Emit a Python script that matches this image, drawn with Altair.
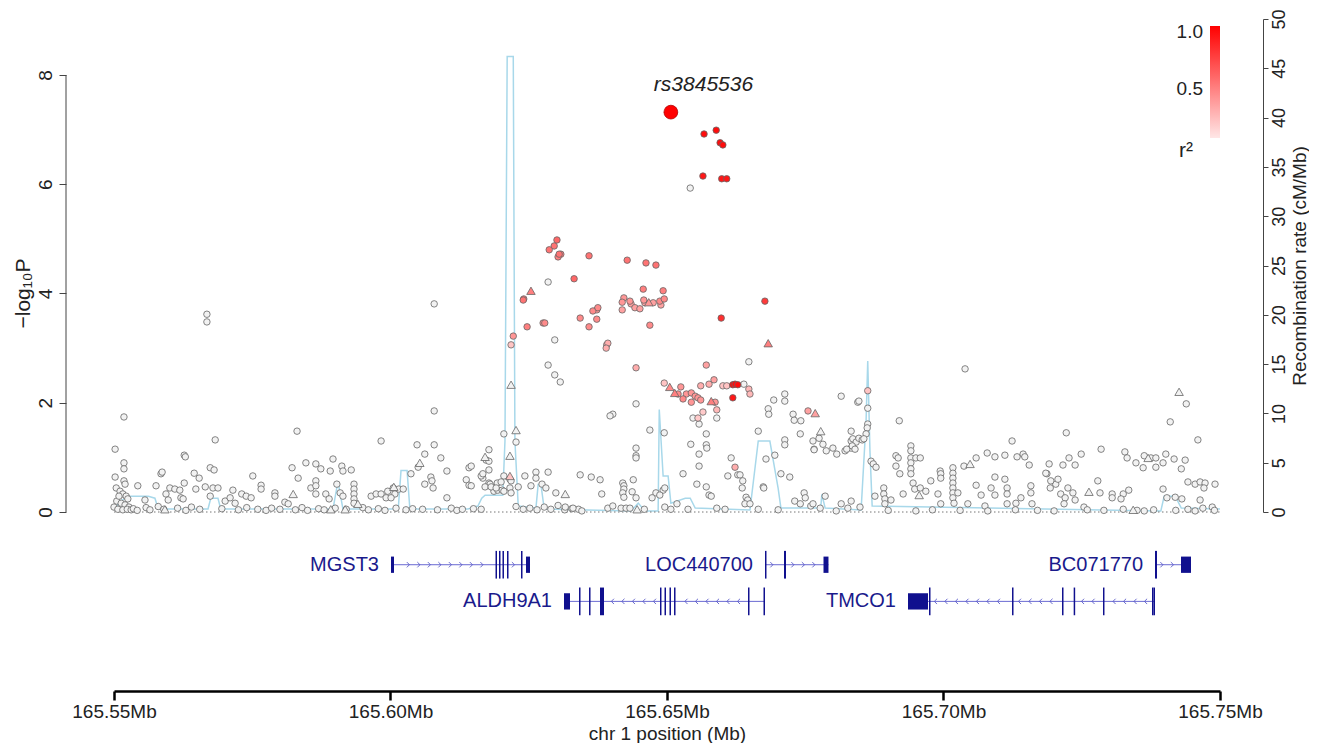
import altair as alt
import pandas as pd

REGION_START_MB = 165.55
REGION_END_MB = 165.75

# ---------------- recombination rate (kb from 165.55 Mb, cM/Mb) ----------------
recomb_kb = [0.0, 1.1, 2.9, 6.2, 7.4, 8.0, 17.0, 17.5, 18.8, 19.3, 39.6, 40.5, 41.4,
             51.4, 51.9, 53.0, 53.5, 64.0, 65.8, 66.5, 67.1, 70.3, 70.7, 71.1, 72.2,
             72.5, 73.1, 76.3, 76.7, 77.2, 77.8, 93.5, 94.8, 96.0, 98.4, 98.6, 99.3,
             100.2, 100.7, 103.3, 104.2, 105.1, 115.0, 116.5, 118.6, 120.1, 120.6, 127.8,
             128.0, 128.6, 135.1, 136.0, 136.3, 136.7, 137.1, 189.3, 189.9, 191.9, 193.0,
             200.0]
recomb_rate = [0.2, 1.1, 1.6, 1.6, 1.4, 0.3, 0.3, 1.4, 1.4, 0.3, 0.3, 3.1, 0.3,
               0.3, 4.2, 4.2, 0.3, 0.3, 0.6, 1.4, 1.7, 1.7, 7.2, 46.2, 46.2,
               7.2, 0.6, 0.4, 2.8, 2.8, 0.3, 0.1, 0.9, 0.1, 0.1, 10.4, 3.65,
               3.65, 0.9, 1.4, 1.4, 0.4, 0.2, 7.2, 7.2, 2.4, 0.4, 0.4,
               1.8, 0.4, 0.2, 9.2, 15.3, 6.2, 0.6, 0.1, 1.6, 1.6, 0.4,
               0.3]

# ---------------- SNPs: (kb from 165.55 Mb, -log10 P) ----------------
lead_kb = [100.7]
lead_logp = [7.32]
lead_name = ["rs3845536"]

# coloured by LD: (kb, -log10P, r2)
ld_circles = [
    (106.7, 6.92, 0.95), (108.9, 6.99, 0.95), (109.6, 6.76, 0.95), (110.1, 6.72, 0.95),
    (106.5, 6.15, 0.9), (109.9, 6.10, 0.9), (110.8, 6.10, 0.9), (111.9, 2.33, 0.95),
    (112.3, 2.34, 0.95), (112.8, 2.33, 0.95), (111.9, 2.09, 0.9), (109.8, 3.55, 0.8),
    (117.7, 3.86, 0.75),
    (80.1, 4.98, 0.55), (79.6, 4.87, 0.5), (78.7, 4.80, 0.5), (80.5, 4.72, 0.5),
    (80.8, 4.72, 0.45), (80.3, 4.67, 0.45), (85.9, 4.69, 0.5), (92.8, 4.61, 0.5),
    (96.2, 4.56, 0.5), (98.0, 4.52, 0.5), (83.2, 4.27, 0.55), (74.0, 3.88, 0.5),
    (74.1, 3.90, 0.45), (95.7, 4.08, 0.45), (99.3, 4.05, 0.45),
    (92.2, 3.92, 0.35), (91.9, 3.84, 0.35), (93.3, 3.86, 0.35), (93.5, 3.81, 0.3),
    (95.8, 3.88, 0.35), (97.5, 3.83, 0.3), (98.7, 3.86, 0.4), (99.5, 3.90, 0.4),
    (98.9, 3.79, 0.3), (94.2, 3.74, 0.3), (95.1, 3.72, 0.3), (91.9, 3.70, 0.3),
    (96.0, 3.83, 0.3), (86.6, 3.68, 0.4), (87.5, 3.74, 0.4), (87.3, 3.70, 0.35),
    (84.3, 3.55, 0.4), (87.3, 3.53, 0.4), (85.9, 3.39, 0.4), (77.6, 3.46, 0.4),
    (77.9, 3.46, 0.4), (74.7, 3.39, 0.45), (96.9, 3.42, 0.4), (72.2, 3.22, 0.35),
    (71.8, 3.06, 0.15), (89.3, 3.09, 0.25), (89.0, 3.00, 0.25), (89.1, 3.06, 0.2),
    (94.4, 2.64, 0.25), (107.1, 2.69, 0.3), (108.5, 2.42, 0.3), (99.5, 2.36, 0.15),
    (102.5, 2.29, 0.35), (102.0, 2.16, 0.4), (102.9, 2.07, 0.4), (103.5, 2.16, 0.35),
    (104.4, 2.18, 0.35), (105.1, 2.12, 0.35), (104.4, 2.01, 0.35), (105.6, 2.09, 0.35),
    (106.1, 2.31, 0.25), (107.6, 2.34, 0.25), (106.1, 2.05, 0.35), (108.7, 2.01, 0.35),
    (109.0, 1.87, 0.2), (110.1, 2.31, 0.15), (110.8, 2.31, 0.15), (114.8, 2.25, 0.2),
    (115.0, 2.16, 0.2), (125.5, 1.85, 0.3), (136.3, 2.22, 0.15), (106.5, 1.83, 0.12),
    (105.6, 1.72, 0.12), (112.3, 0.82, 0.25),
]
ld_triangles = [
    (75.4, 4.05, 0.45), (96.7, 3.84, 0.35), (118.3, 3.09, 0.45), (100.5, 2.29, 0.4),
    (101.4, 2.18, 0.45), (108.0, 2.03, 0.45), (126.8, 1.81, 0.3), (71.6, 0.66, 0.15),
]
gray_triangles = [
    (192.6, 2.20), (127.8, 1.48), (67.1, 1.01), (71.6, 1.03), (72.7, 1.50), (71.8, 2.33),
    (32.4, 0.33), (44.1, 0.15), (50.6, 0.46), (55.3, 0.90), (154.8, 0.88), (187.0, 0.99),
    (176.3, 0.37), (184.3, 0.04), (145.6, 0.31), (39.2, 0.05), (41.8, 0.05), (9.2, 0.05),
    (81.6, 0.33), (94.6, 0.05),
]

# low-LD (grey) circles: (kb, -log10P)
gray_upper = [
    (16.8, 3.62), (16.8, 3.48), (57.9, 3.81), (1.8, 1.74), (18.3, 1.32), (33.1, 1.48),
    (48.3, 1.30), (57.9, 1.85), (54.8, 1.23), (57.9, 1.23), (12.7, 1.04), (12.9, 1.01),
    (0.2, 1.15), (59.1, 0.99),
]
gray_center = [
    (104.2, 5.93), (78.5, 4.21), (79.7, 3.15), (78.5, 2.69), (79.7, 2.51), (80.7, 2.38),
    (114.8, 2.75), (113.9, 2.34), (119.3, 2.05), (121.3, 2.16), (121.3, 2.03), (122.8, 1.79),
    (94.4, 1.98), (90.2, 1.79), (89.7, 1.76), (104.7, 1.72), (118.3, 1.89), (118.4, 1.79),
    (131.5, 2.12), (134.5, 2.01), (134.7, 2.03), (96.9, 1.50), (99.5, 1.45), (70.5, 1.43),
    (72.7, 1.28), (67.3, 0.95), (67.8, 1.14),
]
gray_right_upper = [
    (153.9, 2.62), (193.9, 1.98), (191.0, 1.65), (196.0, 1.32), (172.2, 1.45), (178.5, 1.15),
    (142.0, 1.67), (136.3, 1.90), (136.3, 1.61), (136.2, 1.54), (136.0, 1.43),
]
gray_left = [
    (1.8, 0.90), (1.8, 0.79), (0.2, 0.64), (1.8, 0.57), (2.0, 0.51), (0.4, 0.44), (1.1, 0.38),
    (1.6, 0.33), (2.2, 0.29), (2.5, 0.24), (0.5, 0.20), (1.3, 0.16), (2.0, 0.13), (2.7, 0.09),
    (0.0, 0.09), (0.7, 0.05), (1.6, 0.04), (2.4, 0.05), (3.1, 0.04), (0.9, 0.29),
    (4.3, 0.48), (5.6, 0.22), (7.6, 0.48), (8.5, 0.70), (8.7, 0.73), (10.1, 0.44), (11.0, 0.42),
    (11.9, 0.40), (9.4, 0.33), (9.8, 0.22), (12.7, 0.53), (14.5, 0.71), (15.4, 0.62), (14.8, 0.42),
    (12.1, 0.26), (12.5, 0.24), (17.4, 0.81), (18.1, 0.77), (16.5, 0.46), (17.9, 0.44), (18.8, 0.44),
    (17.4, 0.29), (21.5, 0.40), (20.1, 0.20), (21.0, 0.26), (21.9, 0.16), (23.1, 0.33), (23.9, 0.29),
    (24.8, 0.26), (25.1, 0.66), (26.6, 0.49), (26.6, 0.42), (29.1, 0.35), (29.1, 0.29), (30.9, 0.18),
    (31.5, 0.15), (32.2, 0.81), (33.3, 0.62), (34.7, 0.90), (36.5, 0.88), (37.4, 0.79), (39.1, 0.75),
    (39.6, 0.97), (41.2, 0.84), (41.4, 0.75), (42.9, 0.77), (35.6, 0.44), (36.5, 0.57), (36.5, 0.48),
    (36.5, 0.33), (38.3, 0.33), (38.9, 0.24), (40.3, 0.51), (40.9, 0.35), (41.4, 0.29), (43.4, 0.51),
    (43.4, 0.42), (43.4, 0.33), (43.4, 0.24), (43.4, 0.16), (46.5, 0.29), (47.4, 0.33), (48.3, 0.33),
    (49.2, 0.26), (49.5, 0.38), (50.5, 0.44), (50.8, 0.33), (50.1, 0.26), (51.5, 0.42), (52.3, 0.42),
    (53.7, 0.70), (55.0, 0.82), (56.2, 1.06), (56.2, 0.51), (57.3, 0.64), (57.5, 0.57), (57.7, 0.44),
    (60.2, 0.75), (60.2, 0.26), (64.2, 0.81), (64.6, 0.84), (63.7, 0.59), (64.2, 0.49), (64.6, 0.48),
    (67.8, 0.93), (67.8, 0.77), (66.7, 0.62), (67.8, 0.53), (68.7, 0.38), (69.4, 0.40), (70.2, 0.40),
    (66.4, 0.05),
]
gray_left_floor = [
    (3.5, 0.06), (4.2, 0.03), (5.8, 0.08), (6.5, 0.04), (8.0, 0.10), (9.0, 0.05), (11.5, 0.07),
    (13.0, 0.03), (14.0, 0.09), (15.5, 0.05), (19.5, 0.06), (22.5, 0.04), (24.0, 0.08), (26.0, 0.05),
    (27.5, 0.03), (28.5, 0.07), (30.0, 0.05), (32.8, 0.04), (34.0, 0.08), (35.0, 0.03), (37.0, 0.06),
    (38.0, 0.04), (40.0, 0.07), (42.0, 0.05), (45.0, 0.08), (46.0, 0.04), (47.8, 0.06), (49.0, 0.03),
    (51.0, 0.07), (52.8, 0.04), (54.0, 0.06), (55.8, 0.05), (58.5, 0.04), (61.0, 0.07), (62.0, 0.03),
    (63.0, 0.05), (65.0, 0.06),
]
gray_spike = [
    (66.4, 0.66), (66.7, 0.70), (68.0, 0.51), (70.5, 0.66), (71.6, 0.60), (71.8, 0.57), (74.3, 0.66),
    (76.3, 0.73), (76.3, 0.62), (78.5, 0.73), (69.3, 0.53), (70.0, 0.55), (67.1, 0.46), (68.2, 0.46),
    (69.1, 0.44), (73.1, 0.46), (75.4, 0.48), (77.4, 0.51), (78.1, 0.44), (70.5, 0.38), (71.6, 0.44),
    (71.8, 0.35), (79.9, 0.35), (72.7, 0.10), (74.0, 0.05), (75.2, 0.07), (76.5, 0.04), (77.8, 0.09),
    (79.0, 0.05), (80.3, 0.12), (81.5, 0.04), (82.8, 0.06), (84.0, 0.05),
]
gray_mid = [
    (94.4, 1.17), (94.4, 1.03), (94.4, 0.99), (84.3, 0.68), (86.3, 0.64), (87.9, 0.59),
    (92.0, 0.53), (92.2, 0.48), (92.2, 0.42), (92.0, 0.35), (92.2, 0.27), (93.9, 0.59),
    (93.7, 0.37), (94.4, 0.26), (88.2, 0.33), (83.0, 0.07), (84.6, 0.02), (81.6, 0.09),
    (89.3, 0.07), (90.2, 0.11), (91.7, 0.07), (92.6, 0.07), (93.3, 0.07), (95.9, 0.05),
    (99.6, 0.09),
    (98.0, 0.35), (99.3, 0.40), (99.6, 0.44), (98.7, 0.31), (97.3, 0.26), (101.8, 0.15),
    (104.3, 1.24), (105.8, 1.61), (107.1, 1.23), (107.2, 1.17), (105.8, 1.06), (105.8, 0.84),
    (102.9, 0.70), (105.4, 0.51), (107.1, 0.46), (107.6, 0.31), (108.0, 0.29), (109.0, 0.07),
    (107.1, 1.43), (109.0, 1.72), (111.0, 0.66), (111.6, 0.99), (112.8, 0.68), (113.2, 0.68),
    (113.7, 0.57), (113.6, 0.44), (114.3, 0.27), (114.6, 0.22), (114.1, 0.15), (115.0, 0.15),
    (116.5, 1.48), (117.4, 0.46), (117.5, 0.44), (117.9, 0.97), (119.5, 1.04), (121.3, 1.32),
    (123.0, 1.68), (124.2, 1.67), (124.1, 1.43), (120.6, 0.70), (122.2, 0.64), (123.1, 0.20),
    (124.8, 0.35), (125.0, 0.26), (124.1, 0.15), (126.0, 0.11), (126.4, 1.30), (126.6, 1.15),
    (100.7, 0.05), (103.8, 0.05), (110.5, 0.05), (116.5, 0.05), (120.1, 0.04), (127.7, 0.07),
    (130.6, 0.02), (132.7, 0.07), (134.9, 0.09), (126.4, 0.15), (128.6, 0.29), (131.5, 0.15),
    (133.3, 0.20),
]
gray_right = [
    (121.3, 1.23), (127.5, 1.35), (126.6, 1.14), (128.2, 1.24), (128.8, 1.12), (130.0, 1.17),
    (130.7, 1.06), (132.2, 1.12), (133.3, 1.48), (133.3, 1.30), (133.6, 1.34), (134.2, 1.28),
    (134.7, 1.35), (135.3, 1.32), (135.6, 1.34), (133.3, 1.17), (133.5, 1.21), (134.0, 1.15),
    (132.5, 1.15), (136.9, 0.93), (137.3, 0.88), (137.8, 0.82),
    (144.1, 1.21), (144.1, 1.12), (144.1, 0.99), (144.1, 0.90), (144.1, 0.79), (144.1, 0.70),
    (145.0, 0.99), (145.8, 0.99), (141.4, 1.03), (141.8, 0.99), (141.4, 0.84), (142.1, 0.70),
    (149.4, 0.75), (149.5, 0.70), (149.5, 0.62), (151.7, 0.81), (151.7, 0.71), (151.7, 0.62),
    (151.7, 0.53), (151.7, 0.44), (151.7, 0.35), (151.7, 0.26), (151.9, 0.16), (155.9, 0.99),
    (153.7, 0.84), (157.9, 1.08), (159.3, 1.01), (161.1, 1.04), (162.4, 1.30), (163.3, 1.01),
    (164.4, 1.06), (164.7, 1.01), (165.5, 0.86),
    (182.8, 1.10), (183.2, 0.99), (186.3, 1.03), (187.5, 0.99), (188.4, 0.99), (190.2, 1.06),
    (191.7, 0.97), (193.7, 0.95), (174.9, 1.06), (172.7, 0.99), (171.6, 0.86), (173.8, 0.86),
    (169.1, 0.88), (168.7, 0.70), (170.3, 0.51), (184.8, 0.90), (186.1, 0.81), (188.4, 0.82),
    (189.7, 0.90), (193.0, 0.79), (194.2, 0.55), (195.5, 0.51), (196.4, 0.55), (197.3, 0.53),
    (197.1, 0.44), (199.1, 0.51), (168.5, 0.71), (169.4, 0.57), (170.7, 0.60), (172.5, 0.44),
    (171.2, 0.33), (172.0, 0.26), (173.4, 0.35), (180.5, 0.33), (180.5, 0.26), (182.5, 0.33),
    (183.5, 0.40), (186.3, 0.02),
]
gray_right_low = [
    (137.6, 0.29), (139.2, 0.44), (139.2, 0.33), (139.4, 0.24), (139.4, 0.15), (140.5, 0.22),
    (142.7, 0.33), (144.5, 0.53), (144.8, 0.42), (145.8, 0.44), (146.8, 0.38), (147.7, 0.57),
    (149.0, 0.33), (149.5, 0.15), (152.6, 0.35), (154.4, 0.15), (155.9, 0.49), (156.8, 0.31),
    (157.5, 0.11), (158.6, 0.44), (159.3, 0.64), (159.3, 0.31), (161.1, 0.60), (161.5, 0.44),
    (161.5, 0.33), (161.5, 0.15), (163.1, 0.16), (164.0, 0.26), (165.8, 0.48), (165.8, 0.35),
    (166.0, 0.15), (169.3, 0.44), (171.8, 0.15), (173.8, 0.22), (175.4, 0.09), (177.9, 0.57),
    (178.3, 0.35), (182.1, 0.24), (182.5, 0.05), (189.7, 0.42), (190.4, 0.26), (191.9, 0.27),
    (193.1, 0.24), (194.2, 0.05), (196.4, 0.22), (196.9, 0.07), (198.6, 0.09),
    (140.0, 0.03), (145.0, 0.02), (148.0, 0.04), (153.0, 0.03), (158.0, 0.02), (163.0, 0.04),
    (167.0, 0.03), (170.0, 0.02), (176.0, 0.04), (179.0, 0.03), (185.0, 0.03), (188.0, 0.04),
    (192.0, 0.03), (195.5, 0.02), (199.0, 0.03),
]
GRAY_R2 = 0.02  # r2 below 0.1 is drawn grey

# ---------------- genes (kb from 165.55 Mb) ----------------
gene_name = ["MGST3", "LOC440700", "BC071770", "ALDH9A1", "TMCO1"]
gene_row = [1.0, 1.0, 1.0, 1.9, 1.9]
gene_strand = ["+", "+", "+", "-", "-"]
gene_start_kb = [50.09, 117.72, 188.25, 81.37, 143.58]
gene_end_kb = [75.23, 129.20, 194.76, 117.72, 188.25]
gene_exons = {
    "MGST3": [(50.09, 50.63, "box"), (68.99, 69.26, "line"), (69.62, 69.89, "line"),
              (70.25, 70.52, "line"), (71.07, 71.34, "line"), (73.60, 73.87, "line"),
              (74.50, 75.23, "box")],
    "LOC440700": [(117.72, 117.99, "line"), (121.16, 121.52, "line"), (128.30, 129.20, "box")],
    "BC071770": [(188.25, 188.61, "line"), (192.95, 194.76, "box")],
    "ALDH9A1": [(81.37, 82.46, "box"), (84.09, 84.36, "line"), (85.90, 86.17, "line"),
                (87.88, 88.61, "line"), (98.73, 99.00, "line"), (99.55, 99.82, "line"),
                (100.45, 100.72, "line"), (101.27, 101.54, "line"), (114.65, 114.92, "line"),
                (117.45, 117.72, "line")],
    "TMCO1": [(143.58, 147.20, "box"), (147.38, 147.65, "line"), (162.39, 162.66, "line"),
              (171.43, 171.70, "line"), (173.54, 173.81, "line"), (178.84, 179.11, "line"),
              (187.70, 187.97, "line"), (187.98, 188.25, "line")],
}

# legend text
legend_top_label = "1.0"
legend_mid_label = "0.5"
legend_title = "r\u00b2"

assert len(recomb_kb) == len(recomb_rate)


def mb(kb):
    return REGION_START_MB + kb / 1000.0


# ---------------- data frames ----------------
recomb_df = pd.DataFrame({"pos": [mb(k) for k in recomb_kb], "rate": recomb_rate})

circle_rows = []
for grp in [gray_upper, gray_center, gray_right_upper, gray_left, gray_left_floor,
            gray_spike, gray_mid, gray_right, gray_right_low]:
    for k, lp in grp:
        circle_rows.append({"pos": mb(k), "logp": lp, "r2": GRAY_R2})
for k, lp, r in ld_circles:
    circle_rows.append({"pos": mb(k), "logp": lp, "r2": r})
circles_df = pd.DataFrame(circle_rows).sort_values("r2", kind="stable")

tri_rows = [{"pos": mb(k), "logp": lp, "r2": GRAY_R2} for k, lp in gray_triangles]
tri_rows += [{"pos": mb(k), "logp": lp, "r2": r} for k, lp, r in ld_triangles]
tri_df = pd.DataFrame(tri_rows).sort_values("r2", kind="stable")

lead_df = pd.DataFrame({"pos": [mb(k) for k in lead_kb], "logp": lead_logp,
                        "r2": [1.0], "name": lead_name})

genes_df = pd.DataFrame({"name": gene_name, "row": gene_row, "strand": gene_strand,
                         "start": [mb(k) for k in gene_start_kb],
                         "end": [mb(k) for k in gene_end_kb]})

HALF = {"box": 0.2, "line": 0.34}
exon_rows = []
arrow_rows = []
for name, row, strand, gs, ge in zip(gene_name, gene_row, gene_strand, gene_start_kb, gene_end_kb):
    exs = gene_exons[name]
    for s, e, kind in exs:
        exon_rows.append({"start": mb(s), "end": mb(e), "y": row - HALF[kind], "y2": row + HALF[kind]})
    # strand chevrons along the introns
    p = gs + 1.2
    while p < ge - 0.8:
        if all(not (s - 0.7 <= p <= e + 0.7) for s, e, _ in exs):
            arrow_rows.append({"start": mb(p), "row": row, "strand": strand})
        p += 1.9
exons_df = pd.DataFrame(exon_rows)
arrows_plus = pd.DataFrame([a for a in arrow_rows if a["strand"] == "+"])
arrows_minus = pd.DataFrame([a for a in arrow_rows if a["strand"] == "-"])

zero_df = pd.DataFrame({"x": [REGION_START_MB], "x2": [REGION_END_MB], "y": [0.0]})
axisline_df = pd.DataFrame({"a": [0.0], "b": [8.0]})

# ---------------- scales / axes ----------------
x_scale = alt.Scale(domain=[REGION_START_MB, REGION_END_MB], nice=False, zero=False)
fill_scale = alt.Scale(domain=[0, 1], range=["#FFE6E6", "#FF0000"], interpolate="rgb")


def ysc():
    return alt.Scale(domain=[0, 9.025], nice=False, zero=True)


left_axis = alt.Axis(orient="left", values=[0, 2, 4, 6, 8], offset=48, domain=False,
                     tickSize=7, tickColor="#444", labelAngle=270, labelAlign="center",
                     labelBaseline="bottom", labelPadding=4, labelFontSize=19,
                     labelColor="#222", title="\u2212log\u2081\u2080P", titleFontSize=21,
                     titleFontWeight="normal", titleColor="#222", titlePadding=3,
                     titleY=274, grid=False)
right_axis = alt.Axis(orient="right", offset=43, values=list(range(0, 55, 5)), tickSize=5,
                      tickColor="#444", domainColor="#444", labelAngle=270, labelAlign="center",
                      labelBaseline="top", labelPadding=2, labelFontSize=18, labelColor="#222",
                      title="Recombination rate (cM/Mb)", titleAngle=270, titleBaseline="top",
                      titleFontSize=19, titleFontWeight="normal", titleColor="#222",
                      titlePadding=2, grid=False)

legend = alt.Legend(title=legend_title, orient="none", legendX=1096, legendY=7,
                    direction="vertical", gradientLength=112, gradientThickness=10,
                    gradientStrokeWidth=0, values=[0.5, 1.0], labelOpacity=0, titleOpacity=0,
                    titleOrient="bottom")


def fill_enc():
    return alt.condition("datum.r2 < 0.1", alt.value("#F2F2F2"),
                         alt.Fill("r2:Q", scale=fill_scale, legend=legend))


X_top = alt.X("pos:Q", scale=x_scale, axis=None)

recomb = alt.Chart(recomb_df).mark_line(color="#A8D8EA", strokeWidth=1.5).encode(
    x=X_top, y=alt.Y("rate:Q", scale=alt.Scale(domain=[0, 50], nice=False), axis=right_axis))

zero_line = alt.Chart(zero_df).mark_rule(color="#777", strokeDash=[1.5, 2.5], strokeWidth=1).encode(
    x=alt.X("x:Q", scale=x_scale, axis=None), x2="x2:Q",
    y=alt.Y("y:Q", scale=ysc(), axis=None))

left_axis_line = alt.Chart(axisline_df).mark_rule(color="#444", strokeWidth=1).encode(
    x=alt.value(-48), y=alt.Y("a:Q", scale=ysc(), axis=None), y2="b:Q")

circ = alt.Chart(circles_df).mark_point(
    shape="circle", filled=True, size=42, stroke="#666", strokeWidth=0.8, opacity=1
).encode(x=X_top, y=alt.Y("logp:Q", scale=ysc(), axis=left_axis), fill=fill_enc())

tri = alt.Chart(tri_df).mark_point(
    shape="triangle-up", filled=True, size=72, stroke="#666", strokeWidth=0.8, opacity=1
).encode(x=X_top, y=alt.Y("logp:Q", scale=ysc(), axis=None), fill=fill_enc())

lead = alt.Chart(lead_df).mark_point(
    shape="circle", filled=True, size=190, stroke="#B00000", strokeWidth=0.8, opacity=1
).encode(x=X_top, y=alt.Y("logp:Q", scale=ysc(), axis=None), fill=fill_enc())

lead_label = alt.Chart(lead_df).mark_text(
    align="left", baseline="middle", dx=-17, dy=-27, fontSize=21, fontStyle="italic", color="#222"
).encode(x=X_top, y=alt.Y("logp:Q", scale=ysc(), axis=None), text="name:N")

legend_base = alt.Chart(pd.DataFrame({"t": [0]}))
leg_txt_1 = legend_base.mark_text(align="right", baseline="middle", fontSize=19, color="#222",
                                  text=legend_top_label).encode(x=alt.value(1089), y=alt.value(13))
leg_txt_2 = legend_base.mark_text(align="right", baseline="middle", fontSize=19, color="#222",
                                  text=legend_mid_label).encode(x=alt.value(1089), y=alt.value(70))
leg_txt_3 = legend_base.mark_text(align="center", baseline="middle", fontSize=21, color="#222",
                                  text=legend_title).encode(x=alt.value(1072), y=alt.value(132))

top = alt.layer(recomb, zero_line, left_axis_line, circ, tri, lead, lead_label,
                leg_txt_1, leg_txt_2, leg_txt_3).resolve_scale(y="independent").properties(
    width=1106, height=493)

# ---------------- gene track ----------------
bottom_axis = alt.Axis(values=[165.55, 165.60, 165.65, 165.70, 165.75],
                       labelExpr="format(datum.value, '.2f') + 'Mb'", domainColor="black",
                       domainWidth=2.5, tickColor="black", tickWidth=2.5, tickSize=9,
                       labelFontSize=19, labelPadding=2, labelFlush=False, labelColor="#222",
                       title="chr 1 position (Mb)", titleFontSize=19, titleFontWeight="normal",
                       titleColor="#222", titlePadding=3, grid=False)
gy_scale = alt.Scale(domain=[0, 4.1], reverse=True, nice=False, zero=False)
X_gene = alt.X("start:Q", scale=x_scale, axis=bottom_axis)

introns = alt.Chart(genes_df).mark_rule(color="#6A6AD2", strokeWidth=1).encode(
    x=X_gene, x2="end:Q", y=alt.Y("row:Q", scale=gy_scale, axis=None))
exons = alt.Chart(exons_df).mark_rect(color="#10108E").encode(
    x=X_gene, x2="end:Q", y=alt.Y("y:Q", scale=gy_scale, axis=None), y2="y2:Q")
arrows_p = alt.Chart(arrows_plus).mark_point(filled=False, size=28, strokeWidth=0.9,
                                             color="#5A5AC8", opacity=1,
                                             shape="M-0.5,-1L0.5,0L-0.5,1").encode(
    x=X_gene, y=alt.Y("row:Q", scale=gy_scale, axis=None))
arrows_m = alt.Chart(arrows_minus).mark_point(filled=False, size=28, strokeWidth=0.9,
                                              color="#5A5AC8", opacity=1,
                                              shape="M0.5,-1L-0.5,0L0.5,1").encode(
    x=X_gene, y=alt.Y("row:Q", scale=gy_scale, axis=None))
labels = alt.Chart(genes_df).mark_text(align="right", baseline="middle", dx=-12, fontSize=20,
                                       color="#1A1A8C").encode(
    x=X_gene, y=alt.Y("row:Q", scale=gy_scale, axis=None), text="name:N")

genes = alt.layer(introns, arrows_p, arrows_m, exons, labels).properties(width=1106, height=167)

chart = alt.vconcat(top, genes, spacing=6).properties(
    padding={"left": 4, "top": 0, "right": 0, "bottom": 0}
).configure(font="Liberation Sans").configure_view(stroke=None)

chart.save("out.html", embed_options={"renderer": "svg", "actions": False})
